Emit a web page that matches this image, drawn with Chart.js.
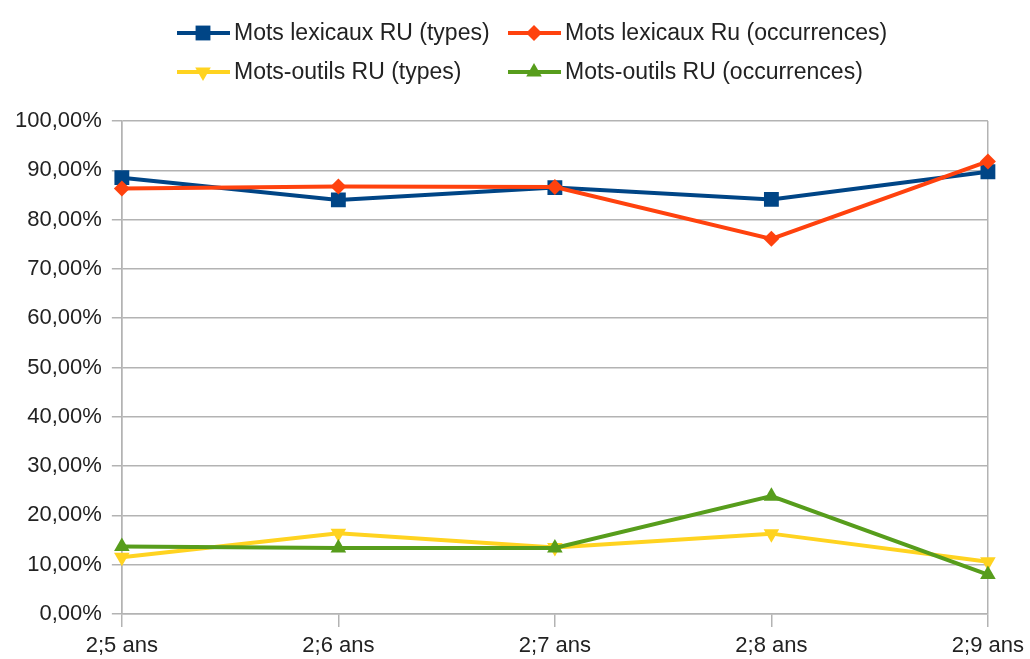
<!DOCTYPE html>
<html>
<head>
<meta charset="utf-8">
<script src="https://cdn.jsdelivr.net/npm/chart.js@4/dist/chart.umd.min.js"></script>
<style>
  html, body { margin: 0; padding: 0; background: #fff; }
  canvas { display: block; }
</style>
</head>
<body>
<canvas id="myChart" width="1030" height="659"></canvas>
<script>
(() => {
    // tranches d'âge
    const ages = ['2;5 ans', '2;6 ans', '2;7 ans', '2;8 ans', '2;9 ans'];

    // pourcentages par série
    const lexicauxTypes = [88.5, 84.0, 86.5, 84.1, 89.7];
    const lexicauxOcc = [86.3, 86.7, 86.6, 76.1, 91.8];
    const outilsTypes = [11.5, 16.4, 13.5, 16.3, 10.6];
    const outilsOcc = [13.7, 13.4, 13.4, 23.9, 8.0];

    const yTicks = [0, 10, 20, 30, 40, 50, 60, 70, 80, 90, 100];

    const police = 'Liberation Sans, Arial, sans-serif';
    const gris = '#b3b3b3';

    // légende dessinée à la main : grille 2 x 2 en haut du canvas
    const legendeGrille = {
        id: 'legendeGrille',
        afterDraw(chart) {
            const ctx = chart.ctx;
            const colX = [177, 508];
            const rowY = [33, 72];
            chart.data.datasets.forEach((ds, i) => {
                const x = colX[i % 2];
                const y = rowY[Math.floor(i / 2)];
                ctx.save();
                ctx.strokeStyle = ds.borderColor;
                ctx.lineWidth = 4;
                ctx.beginPath();
                ctx.moveTo(x, y);
                ctx.lineTo(x + 53, y);
                ctx.stroke();
                ctx.fillStyle = ds.backgroundColor;
                Chart.helpers.drawPoint(ctx, {
                    pointStyle: ds.pointStyle,
                    rotation: ds.pointRotation || 0,
                    radius: ds.pointRadius,
                    borderWidth: 0
                }, x + 26, y);
                ctx.fillStyle = '#222';
                ctx.font = '23px ' + police;
                ctx.textBaseline = 'middle';
                ctx.textAlign = 'left';
                ctx.fillText(ds.label, x + 57, y + 1);
                ctx.restore();
            });
        }
    };

    const serie = (label, data, color, style, radius, rotation, order) => ({
        label: label,
        data: data,
        borderColor: color,
        backgroundColor: color,
        borderWidth: 4,
        pointStyle: style,
        pointRadius: radius,
        pointHoverRadius: radius,
        pointRotation: rotation,
        pointBorderWidth: 0,
        tension: 0,
        order: order
    });

    const data = {
        labels: ages,
        datasets: [
            serie('Mots lexicaux RU (types)', lexicauxTypes, '#004586', 'rect', 10.5, 0, 4),
            serie('Mots lexicaux Ru (occurrences)', lexicauxOcc, '#ff420e', 'rectRot', 8, 0, 3),
            serie('Mots-outils RU (types)', outilsTypes, '#ffd320', 'triangle', 9, 180, 2),
            serie('Mots-outils RU (occurrences)', outilsOcc, '#579d1c', 'triangle', 9, 0, 1)
        ]
    };

    const config = {
        type: 'line',
        data: data,
        plugins: [legendeGrille],
        options: {
            responsive: false,
            animation: false,
            devicePixelRatio: 1,
            layout: {
                padding: { top: 121, left: 5, right: 42, bottom: 0 }
            },
            plugins: {
                legend: { display: false },
                tooltip: { enabled: false }
            },
            scales: {
                x: {
                    offset: false,
                    afterFit: (axis) => { axis.height = 45; },
                    grid: {
                        color: (c) => (c.index === 0 || c.index === ages.length - 1) ? gris : 'rgba(0,0,0,0)',
                        tickColor: gris,
                        tickLength: 13,
                        lineWidth: 1.5
                    },
                    border: { display: true, color: gris, width: 1.5 },
                    ticks: {
                        color: '#222',
                        padding: 6,
                        maxRotation: 0,
                        font: { family: police, size: 22 }
                    }
                },
                y: {
                    min: 0,
                    max: 100,
                    afterBuildTicks: (axis) => {
                        axis.ticks = yTicks.map(v => ({ value: v }));
                    },
                    grid: {
                        color: gris,
                        tickLength: 10,
                        lineWidth: 1.5
                    },
                    border: { display: true, color: gris, width: 1.5 },
                    ticks: {
                        color: '#222',
                        padding: 10,
                        font: { family: police, size: 22 },
                        callback: (v) => v.toFixed(2).replace('.', ',') + '%'
                    }
                }
            }
        }
    };

    new Chart(document.getElementById('myChart'), config);
})();
</script>
</body>
</html>
